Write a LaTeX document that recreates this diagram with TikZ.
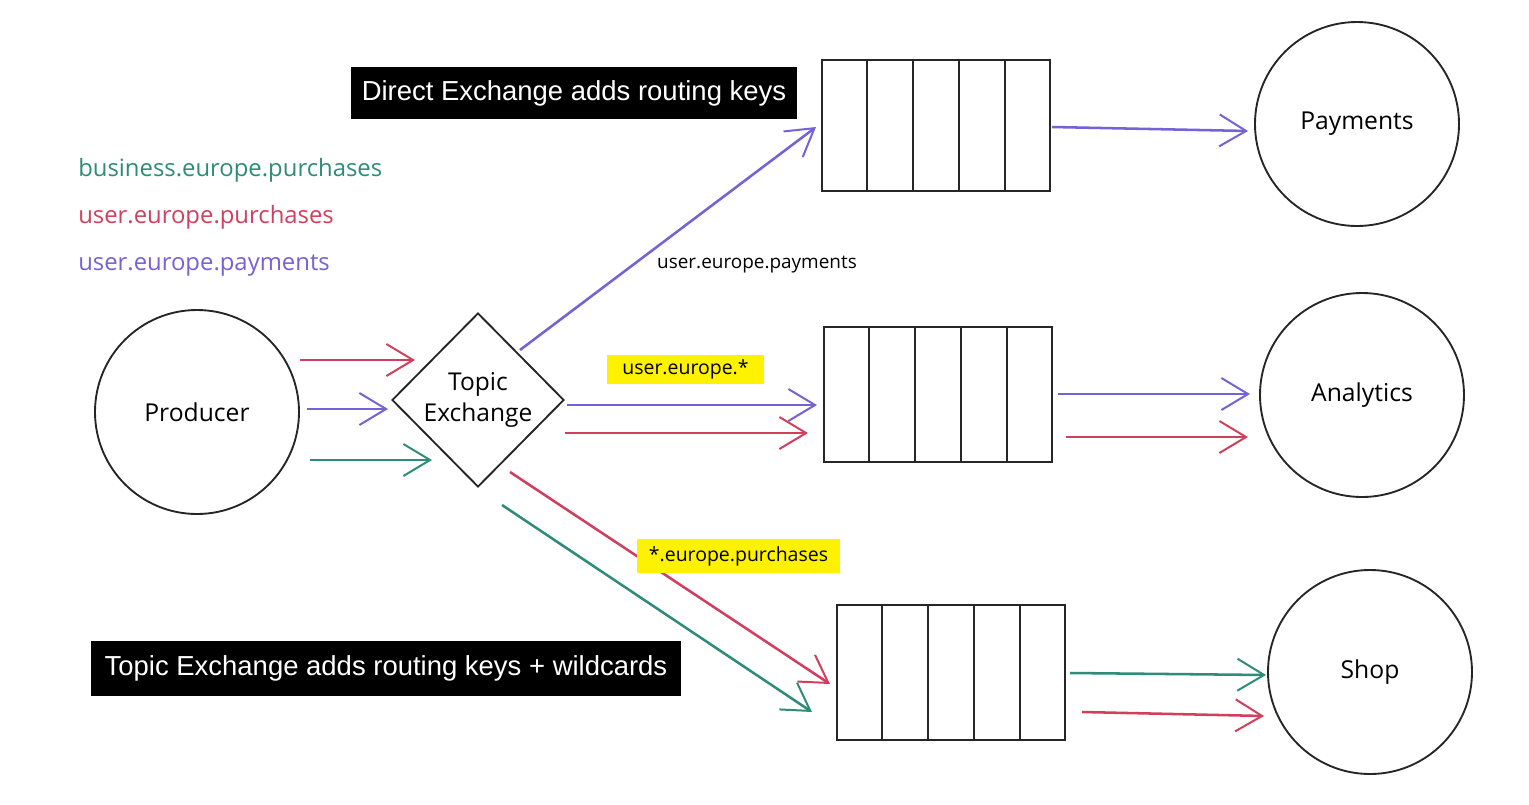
\documentclass[tikz,border=0pt]{standalone}
\usepackage{fontspec}
\setmainfont{Liberation Sans}
\newfontfamily\hand{Open Sans}
\usetikzlibrary{arrows.meta,shapes.geometric,calc}
\definecolor{cgreen}{HTML}{2E8C78}
\definecolor{cred}{HTML}{D0405E}
\definecolor{cpurple}{HTML}{7462D6}
\definecolor{cyel}{HTML}{FFF200}
\tikzset{
  x=0.75pt, y=-0.75pt,
  arr/.style={line width=1.9pt, -{Straight Barb[length=20pt,width=24pt,line width=1.5pt]}},
  ga/.style={arr, draw=cgreen},
  ra/.style={arr, draw=cred},
  pa/.style={arr, draw=cpurple},
  endpoint/.style={circle, draw=black!85, line width=1.4pt, minimum size=153pt, inner sep=0pt, font=\hand\fontsize{18.5}{20}\selectfont},
  queue/.style={draw=black!85, line width=1.5pt, minimum width=171pt, inner sep=0pt},
  blackbox/.style={fill=black, text=white, inner sep=0pt, font=\fontsize{20.6}{24}\selectfont},
  yelbox/.style={fill=cyel, inner sep=0pt, font=\hand\fontsize{14.6}{16}\selectfont},
  keylabel/.style={anchor=west, inner sep=0pt, font=\hand\fontsize{17.9}{20}\selectfont},
}
\begin{document}
\begin{tikzpicture}
\useasboundingbox (0,0) rectangle (1529,804);
\fill[white] (0,0) rectangle (1529,804);

% endpoints
\node[endpoint] (prod) at (197,412) {Producer};
\node[endpoint] (pay) at (1357,124) {Payments};
\node[endpoint] (ana) at (1362,395) {Analytics};
\node[endpoint] (shop) at (1370,672) {Shop};

% exchange
\node[diamond, draw=black!85, line width=1.4pt, minimum width=129pt, minimum height=130.5pt, inner sep=0pt, align=center, font=\hand\fontsize{18.4}{23}\selectfont] (ex) at (478,400) {Topic\\Exchange};

% queues
\node[queue, minimum height=98.25pt] (q1) at (936,125) {};
\node[queue, minimum height=101.25pt] (q2) at (938,394.5) {};
\node[queue, minimum height=101.25pt] (q3) at (951,672.5) {};
\foreach \q in {q1,q2,q3}{
  \foreach \f in {1,2,3,4}{
    \draw[black!85, line width=1.5pt] ($(\q.north west)!\f/5!(\q.north east)$) -- ($(\q.south west)!\f/5!(\q.south east)$);
  }
}

% producer -> exchange
\draw[ra] ([shift={(103,-52)}]prod.center) -- ([shift={(-63,-40)}]ex.center);
\draw[pa] ([shift={(110,-3)}]prod.center) -- ([shift={(-90,9)}]ex.center);
\draw[ga] ([shift={(113,48)}]prod.center) -- ([shift={(-46,60)}]ex.center);

% exchange -> queues
\draw[pa] ([shift={(42,-50)}]ex.center) -- ([shift={(-120,2)}]q1.center);
\draw[pa] ([shift={(89,5)}]ex.center) -- ([shift={(-121,10.5)}]q2.center);
\draw[ra] ([shift={(87,33)}]ex.center) -- ([shift={(-130,38.5)}]q2.center);
\draw[ra] ([shift={(32,72)}]ex.center) -- ([shift={(-121,11.5)}]q3.center);
\draw[ga] ([shift={(24,105)}]ex.center) -- ([shift={(-139,39.5)}]q3.center);

% queues -> consumers
\draw[pa] ([shift={(116,2)}]q1.center) -- ([shift={(-109,7)}]pay.center);
\draw[pa] ([shift={(120,-0.5)}]q2.center) -- ([shift={(-112,-1)}]ana.center);
\draw[ra] ([shift={(128,42.5)}]q2.center) -- ([shift={(-114,42)}]ana.center);
\draw[ga] ([shift={(119,0.5)}]q3.center) -- ([shift={(-104,3)}]shop.center);
\draw[ra] ([shift={(131,39.5)}]q3.center) -- ([shift={(-106,44)}]shop.center);

% labels
\node[font=\hand\fontsize{14.2}{16}\selectfont, inner sep=0pt] (lpay) at (757,265) {user.europe.payments};
\node[yelbox, minimum width=117.75pt, minimum height=21.75pt] (y1) at (685.5,369.5) {user.europe.*};
\node[yelbox, minimum width=152.25pt, minimum height=25.5pt] (y2) at (738.5,556) {*.europe.purchases};

\node[keylabel, text=cgreen] (k1) at (78,170) {business.europe.purchases};
\node[keylabel, text=cred] (k2) at (78,217) {user.europe.purchases};
\node[keylabel, text=cpurple] (k3) at (78,265) {user.europe.payments};

\node[blackbox, minimum width=334.5pt, minimum height=39pt] (b1) at (574,93) {Direct Exchange adds routing keys};
\node[blackbox, minimum width=442.5pt, minimum height=41.25pt] (b2) at (386,668.5) {Topic Exchange adds routing keys + wildcards};
\end{tikzpicture}
\end{document}
